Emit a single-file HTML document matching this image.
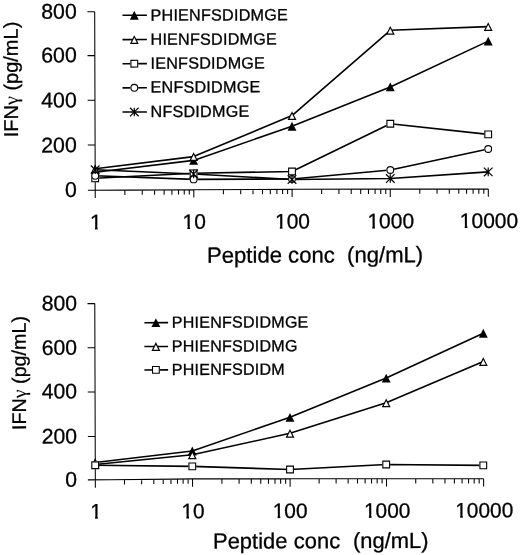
<!DOCTYPE html>
<html><head><meta charset="utf-8"><title>IFN gamma vs peptide concentration</title>
<style>
html,body{margin:0;padding:0;background:#fff}
svg{display:block}
text{font-family:"Liberation Sans",Arial,sans-serif;fill:#000;stroke:#000;stroke-width:0.3px}
</style></head>
<body>
<svg width="520" height="555" viewBox="0 0 520 555">
<defs><clipPath id="one" clipPathUnits="userSpaceOnUse"><rect x="-1" y="-20" width="14" height="17.2"/><rect x="4.9" y="-20" width="2.65" height="20.6"/></clipPath></defs>
<rect width="520" height="555" fill="#fff"/>
<g transform="rotate(-0.175 260.0 277.5)">
<path d="M95.5,11.2V197.5M88.17,189.72L130.27,189.75L194.27,189.5L292.27,189.35L390.27,189.5L488.57,189.7M88.2,144.49H95.5M88.2,99.74H95.5M88.2,55.09H95.5M88.2,11.19H95.5M194.07,189.5v7.8M292.37,189.35v7.8M390.52,189.5v7.8M488.57,189.7v7.8M125.15,189.75v4.8M142.51,189.7v4.8M154.83,189.66v4.8M164.39,189.62v4.8M172.19,189.59v4.8M178.79,189.56v4.8M184.51,189.54v4.8M189.56,189.52v4.8M223.66,189.45v4.8M240.97,189.43v4.8M253.25,189.41v4.8M262.78,189.39v4.8M270.56,189.38v4.8M277.14,189.37v4.8M282.84,189.36v4.8M287.87,189.35v4.8M321.92,189.39v4.8M339.2,189.42v4.8M351.46,189.44v4.8M360.97,189.45v4.8M368.74,189.46v4.8M375.32,189.47v4.8M381.01,189.48v4.8M386.03,189.49v4.8M420.04,189.56v4.8M437.3,189.59v4.8M449.55,189.62v4.8M459.05,189.64v4.8M466.82,189.65v4.8M473.38,189.67v4.8M479.07,189.68v4.8M484.08,189.69v4.8" stroke="#000" stroke-width="1.05" fill="none" stroke-linecap="butt" stroke-linejoin="round"/>
<g font-size="21.3" text-anchor="end">
<text x="77.05" y="196.37">0</text>
<text x="77.18" y="151.77">200</text>
<text x="77.32" y="106.87">400</text>
<text x="77.46" y="61.77">600</text>
<text x="77.59" y="18.07">800</text>
</g>
<g font-size="21.0">
<text transform="translate(90.26,228.65)" clip-path="url(#one)">1</text>
<text transform="translate(182.69,228.65)" clip-path="url(#one)">1</text>
<text x="194.37" y="228.65">0</text>
<text transform="translate(275.12,228.65)" clip-path="url(#one)">1</text>
<text x="286.8" y="228.65">00</text>
<text transform="translate(367.55,228.65)" clip-path="url(#one)">1</text>
<text x="379.23" y="228.65">000</text>
<text transform="translate(459.98,228.65)" clip-path="url(#one)">1</text>
<text x="471.66" y="228.65">0000</text>
</g>
<text x="207.1" y="262.6" font-size="22.1" word-spacing="0" xml:space="preserve">Peptide conc  (ng/mL)</text>
<text transform="translate(18.5,136.6) rotate(-90)" font-size="20" xml:space="preserve">IFN<tspan font-family="'Liberation Serif','DejaVu Serif',serif" font-size="20.3" stroke-width="0">γ</tspan> (pg/mL)</text>
<polyline points="95.52,171.8 193.96,160.2 292.46,126.35 390.88,87.3 488.92,41.8" fill="none" stroke="#000" stroke-width="1.6" stroke-linejoin="round"/>
<polyline points="95.53,168.3 193.97,156.4 292.49,115.7 391.05,30.7 488.97,27.3" fill="none" stroke="#000" stroke-width="1.6" stroke-linejoin="round"/>
<polyline points="95.5,177.8 193.92,173.1 292.32,171.6 390.77,124.15 488.64,135.1" fill="none" stroke="#000" stroke-width="1.6" stroke-linejoin="round"/>
<polyline points="95.51,175.3 193.9,179.2 292.3,179.1 390.63,170.4 488.59,149.7" fill="none" stroke="#000" stroke-width="1.6" stroke-linejoin="round"/>
<polyline points="95.53,169.3 193.92,173.8 292.3,179.6 390.6,178.9 488.52,172.6" fill="none" stroke="#000" stroke-width="1.6" stroke-linejoin="round"/>
<polygon points="95.52,167.4 99.97,176.2 91.07,176.2" fill="#000" stroke="#fff" stroke-width="0.0" paint-order="stroke"/>
<polygon points="193.96,155.8 198.41,164.6 189.51,164.6" fill="#000" stroke="#fff" stroke-width="0.0" paint-order="stroke"/>
<polygon points="292.46,121.95 296.91,130.75 288.01,130.75" fill="#000" stroke="#fff" stroke-width="0.0" paint-order="stroke"/>
<polygon points="390.88,82.9 395.33,91.7 386.43,91.7" fill="#000" stroke="#fff" stroke-width="0.0" paint-order="stroke"/>
<polygon points="488.92,37.4 493.37,46.2 484.47,46.2" fill="#000" stroke="#fff" stroke-width="0.0" paint-order="stroke"/>
<polygon points="95.53,163.9 99.98,172.7 91.08,172.7" fill="#000" stroke="#fff" stroke-width="0.0" paint-order="stroke"/><polygon points="95.53,166.56 98.03,171.5 93.03,171.5" fill="#fff"/>
<polygon points="193.97,152 198.42,160.8 189.52,160.8" fill="#000" stroke="#fff" stroke-width="0.0" paint-order="stroke"/><polygon points="193.97,154.66 196.47,159.6 191.47,159.6" fill="#fff"/>
<polygon points="292.49,111.3 296.94,120.1 288.04,120.1" fill="#000" stroke="#fff" stroke-width="0.0" paint-order="stroke"/><polygon points="292.49,113.96 294.99,118.9 290,118.9" fill="#fff"/>
<polygon points="391.05,26.3 395.5,35.1 386.6,35.1" fill="#000" stroke="#fff" stroke-width="0.0" paint-order="stroke"/><polygon points="391.05,28.96 393.55,33.9 388.56,33.9" fill="#fff"/>
<polygon points="488.97,22.9 493.42,31.7 484.52,31.7" fill="#000" stroke="#fff" stroke-width="0.0" paint-order="stroke"/><polygon points="488.97,25.56 491.46,30.5 486.47,30.5" fill="#fff"/>
<rect x="92.13" y="174.42" width="6.75" height="6.75" fill="#fff" stroke="#fff" stroke-width="1.1"/><rect x="92.13" y="174.42" width="6.75" height="6.75" fill="#fff" stroke="#000" stroke-width="1.1"/>
<rect x="190.54" y="169.72" width="6.75" height="6.75" fill="#fff" stroke="#fff" stroke-width="1.1"/><rect x="190.54" y="169.72" width="6.75" height="6.75" fill="#fff" stroke="#000" stroke-width="1.1"/>
<rect x="288.95" y="168.22" width="6.75" height="6.75" fill="#fff" stroke="#fff" stroke-width="1.1"/><rect x="288.95" y="168.22" width="6.75" height="6.75" fill="#fff" stroke="#000" stroke-width="1.1"/>
<rect x="387.39" y="120.77" width="6.75" height="6.75" fill="#fff" stroke="#fff" stroke-width="1.1"/><rect x="387.39" y="120.77" width="6.75" height="6.75" fill="#fff" stroke="#000" stroke-width="1.1"/>
<rect x="485.26" y="131.72" width="6.75" height="6.75" fill="#fff" stroke="#fff" stroke-width="1.1"/><rect x="485.26" y="131.72" width="6.75" height="6.75" fill="#fff" stroke="#000" stroke-width="1.1"/>
<circle cx="95.51" cy="175.3" r="3.4" fill="#fff" stroke="#fff" stroke-width="1.1"/><circle cx="95.51" cy="175.3" r="3.4" fill="#fff" stroke="#000" stroke-width="1.1"/>
<circle cx="193.9" cy="179.2" r="3.4" fill="#fff" stroke="#fff" stroke-width="1.1"/><circle cx="193.9" cy="179.2" r="3.4" fill="#fff" stroke="#000" stroke-width="1.1"/>
<circle cx="292.3" cy="179.1" r="3.4" fill="#fff" stroke="#fff" stroke-width="1.1"/><circle cx="292.3" cy="179.1" r="3.4" fill="#fff" stroke="#000" stroke-width="1.1"/>
<circle cx="390.63" cy="170.4" r="3.4" fill="#fff" stroke="#fff" stroke-width="1.1"/><circle cx="390.63" cy="170.4" r="3.4" fill="#fff" stroke="#000" stroke-width="1.1"/>
<circle cx="488.59" cy="149.7" r="3.4" fill="#fff" stroke="#fff" stroke-width="1.1"/><circle cx="488.59" cy="149.7" r="3.4" fill="#fff" stroke="#000" stroke-width="1.1"/>
<path d="M95.53,165V173.6M91.23,165L99.83,173.6M99.83,165L91.23,173.6" fill="none" stroke="#000" stroke-width="1.2"/>
<path d="M193.92,169.5V178.1M189.62,169.5L198.22,178.1M198.22,169.5L189.62,178.1" fill="none" stroke="#000" stroke-width="1.2"/>
<path d="M292.3,175.3V183.9M288,175.3L296.6,183.9M296.6,175.3L288,183.9" fill="none" stroke="#000" stroke-width="1.2"/>
<path d="M390.6,174.6V183.2M386.3,174.6L394.9,183.2M394.9,174.6L386.3,183.2" fill="none" stroke="#000" stroke-width="1.2"/>
<path d="M488.52,168.3V176.9M484.22,168.3L492.82,176.9M492.82,168.3L484.22,176.9" fill="none" stroke="#000" stroke-width="1.2"/>
<g font-size="16.2" letter-spacing="0.2">
<path d="M123.3,14.87H147.7" stroke="#000" stroke-width="1.6"/>
<polygon points="135.1,10.47 139.55,19.27 130.65,19.27" fill="#000" stroke="#fff" stroke-width="0.0" paint-order="stroke"/>
<text x="151.3" y="20.37">PHIENFSDIDMGE</text>
<path d="M123.23,39.22H147.63" stroke="#000" stroke-width="1.6"/>
<polygon points="135.03,34.82 139.48,43.62 130.58,43.62" fill="#000" stroke="#fff" stroke-width="0.0" paint-order="stroke"/><polygon points="135.03,37.48 137.53,42.42 132.53,42.42" fill="#fff"/>
<text x="151.23" y="44.52">HIENFSDIDMGE</text>
<path d="M123.15,63.32H147.55" stroke="#000" stroke-width="1.6"/>
<rect x="131.58" y="59.94" width="6.75" height="6.75" fill="#fff" stroke="#fff" stroke-width="1.1"/><rect x="131.58" y="59.94" width="6.75" height="6.75" fill="#fff" stroke="#000" stroke-width="1.1"/>
<text x="151.15" y="68.42">IENFSDIDMGE</text>
<path d="M123.08,87.42H147.48" stroke="#000" stroke-width="1.6"/>
<circle cx="134.88" cy="87.42" r="3.4" fill="#fff" stroke="#fff" stroke-width="1.1"/><circle cx="134.88" cy="87.42" r="3.4" fill="#fff" stroke="#000" stroke-width="1.1"/>
<text x="151.08" y="92.27">ENFSDIDMGE</text>
<path d="M123.01,111.62H147.41" stroke="#000" stroke-width="1.6"/>
<path d="M134.81,107.32V115.92M130.51,107.32L139.11,115.92M139.11,107.32L130.51,115.92" fill="none" stroke="#000" stroke-width="1.2"/>
<text x="151.01" y="116.72">NFSDIDMGE</text>
</g>
<path d="M94.7,303.09V487.25M87.28,479.37L109.38,479.29L174.38,478.84L191.39,478.69L289.38,478.94L385.38,479.13L482.98,479.43M87.4,435.88H94.7M87.4,391.38H94.7M87.4,347.23H94.7M87.4,303.08H94.7M191.94,478.69v7.8M289.48,478.94v7.8M385.88,479.14v7.8M482.98,479.43v7.8M123.89,479.19v4.8M141.03,479.07v4.8M153.19,478.99v4.8M162.63,478.92v4.8M170.34,478.87v4.8M176.86,478.82v4.8M182.5,478.77v4.8M187.48,478.73v4.8M221.3,478.77v4.8M238.48,478.81v4.8M250.67,478.84v4.8M260.12,478.87v4.8M267.84,478.89v4.8M274.37,478.9v4.8M280.03,478.92v4.8M285.02,478.93v4.8M318.5,479v4.8M335.48,479.03v4.8M347.52,479.06v4.8M356.87,479.08v4.8M364.5,479.09v4.8M370.95,479.1v4.8M376.54,479.12v4.8M381.47,479.13v4.8M415.11,479.22v4.8M432.21,479.28v4.8M444.34,479.31v4.8M453.75,479.34v4.8M461.44,479.37v4.8M467.94,479.39v4.8M473.57,479.4v4.8M478.54,479.42v4.8" stroke="#000" stroke-width="1.05" fill="none" stroke-linecap="butt" stroke-linejoin="round"/>
<g font-size="21.2" text-anchor="end">
<text x="76.36" y="486.13">0</text>
<text x="76.49" y="442.83">200</text>
<text x="76.63" y="397.93">400</text>
<text x="76.76" y="354.23">600</text>
<text x="76.9" y="309.93">800</text>
</g>
<g font-size="20.9">
<text transform="translate(89.49,518.1)" clip-path="url(#one)">1</text>
<text transform="translate(180.75,518.1)" clip-path="url(#one)">1</text>
<text x="192.37" y="518.1">0</text>
<text transform="translate(272,518.1)" clip-path="url(#one)">1</text>
<text x="283.63" y="518.1">00</text>
<text transform="translate(363.26,518.1)" clip-path="url(#one)">1</text>
<text x="374.89" y="518.1">000</text>
<text transform="translate(454.52,518.1)" clip-path="url(#one)">1</text>
<text x="466.14" y="518.1">0000</text>
</g>
<text x="212.2" y="548.4" font-size="21.95" word-spacing="0.3" xml:space="preserve">Peptide conc  (ng/mL)</text>
<text transform="translate(25.6,429.2) rotate(-90)" font-size="19.7" xml:space="preserve">IFN<tspan font-family="'Liberation Serif','DejaVu Serif',serif" font-size="20.0" stroke-width="0">γ</tspan> (pg/mL)</text>
<polyline points="94.64,462 191.77,450.79 289.57,417.39 385.89,378.48 483.13,333.93" fill="none" stroke="#000" stroke-width="1.6" stroke-linejoin="round"/>
<polyline points="94.63,464 191.76,454.59 289.52,433.39 385.82,403.18 483.04,362.28" fill="none" stroke="#000" stroke-width="1.6" stroke-linejoin="round"/>
<polyline points="94.63,464.75 191.72,466.19 289.41,469.59 385.63,464.88 482.73,466.08" fill="none" stroke="#000" stroke-width="1.6" stroke-linejoin="round"/>
<polygon points="94.64,457.6 99.09,466.4 90.19,466.4" fill="#000" stroke="#fff" stroke-width="0.0" paint-order="stroke"/>
<polygon points="191.77,446.39 196.22,455.19 187.32,455.19" fill="#000" stroke="#fff" stroke-width="0.0" paint-order="stroke"/>
<polygon points="289.57,412.99 294.02,421.79 285.12,421.79" fill="#000" stroke="#fff" stroke-width="0.0" paint-order="stroke"/>
<polygon points="385.89,374.08 390.34,382.88 381.44,382.88" fill="#000" stroke="#fff" stroke-width="0.0" paint-order="stroke"/>
<polygon points="483.13,329.53 487.58,338.33 478.68,338.33" fill="#000" stroke="#fff" stroke-width="0.0" paint-order="stroke"/>
<polygon points="94.63,459.6 99.08,468.4 90.18,468.4" fill="#000" stroke="#fff" stroke-width="0.0" paint-order="stroke"/><polygon points="94.63,462.25 97.13,467.2 92.13,467.2" fill="#fff"/>
<polygon points="191.76,450.19 196.21,458.99 187.31,458.99" fill="#000" stroke="#fff" stroke-width="0.0" paint-order="stroke"/><polygon points="191.76,452.85 194.26,457.79 189.26,457.79" fill="#fff"/>
<polygon points="289.52,428.99 293.97,437.79 285.07,437.79" fill="#000" stroke="#fff" stroke-width="0.0" paint-order="stroke"/><polygon points="289.52,431.65 292.02,436.59 287.03,436.59" fill="#fff"/>
<polygon points="385.82,398.78 390.27,407.58 381.37,407.58" fill="#000" stroke="#fff" stroke-width="0.0" paint-order="stroke"/><polygon points="385.82,401.44 388.32,406.38 383.32,406.38" fill="#fff"/>
<polygon points="483.04,357.88 487.49,366.68 478.59,366.68" fill="#000" stroke="#fff" stroke-width="0.0" paint-order="stroke"/><polygon points="483.04,360.54 485.54,365.48 480.54,365.48" fill="#fff"/>
<rect x="91.25" y="461.37" width="6.75" height="6.75" fill="#fff" stroke="#fff" stroke-width="1.1"/><rect x="91.25" y="461.37" width="6.75" height="6.75" fill="#fff" stroke="#000" stroke-width="1.1"/>
<rect x="188.35" y="462.82" width="6.75" height="6.75" fill="#fff" stroke="#fff" stroke-width="1.1"/><rect x="188.35" y="462.82" width="6.75" height="6.75" fill="#fff" stroke="#000" stroke-width="1.1"/>
<rect x="286.04" y="466.22" width="6.75" height="6.75" fill="#fff" stroke="#fff" stroke-width="1.1"/><rect x="286.04" y="466.22" width="6.75" height="6.75" fill="#fff" stroke="#000" stroke-width="1.1"/>
<rect x="382.25" y="461.51" width="6.75" height="6.75" fill="#fff" stroke="#fff" stroke-width="1.1"/><rect x="382.25" y="461.51" width="6.75" height="6.75" fill="#fff" stroke="#000" stroke-width="1.1"/>
<rect x="479.35" y="462.71" width="6.75" height="6.75" fill="#fff" stroke="#fff" stroke-width="1.1"/><rect x="479.35" y="462.71" width="6.75" height="6.75" fill="#fff" stroke="#000" stroke-width="1.1"/>
<g font-size="16.1" letter-spacing="0.2">
<path d="M144.26,322.38H167.96" stroke="#000" stroke-width="1.6"/>
<polygon points="155.76,317.98 160.21,326.78 151.31,326.78" fill="#000" stroke="#fff" stroke-width="0.0" paint-order="stroke"/>
<text x="171.66" y="327.53">PHIENFSDIDMGE</text>
<path d="M144.19,346.18H167.89" stroke="#000" stroke-width="1.6"/>
<polygon points="155.69,341.78 160.14,350.58 151.24,350.58" fill="#000" stroke="#fff" stroke-width="0.0" paint-order="stroke"/><polygon points="155.69,344.44 158.19,349.38 153.19,349.38" fill="#fff"/>
<text x="171.59" y="351.33">PHIENFSDIDMG</text>
<path d="M144.12,369.58H167.82" stroke="#000" stroke-width="1.6"/>
<rect x="152.24" y="366.21" width="6.75" height="6.75" fill="#fff" stroke="#fff" stroke-width="1.1"/><rect x="152.24" y="366.21" width="6.75" height="6.75" fill="#fff" stroke="#000" stroke-width="1.1"/>
<text x="171.52" y="374.73">PHIENFSDIDM</text>
</g>
</g>
</svg>
</body></html>
